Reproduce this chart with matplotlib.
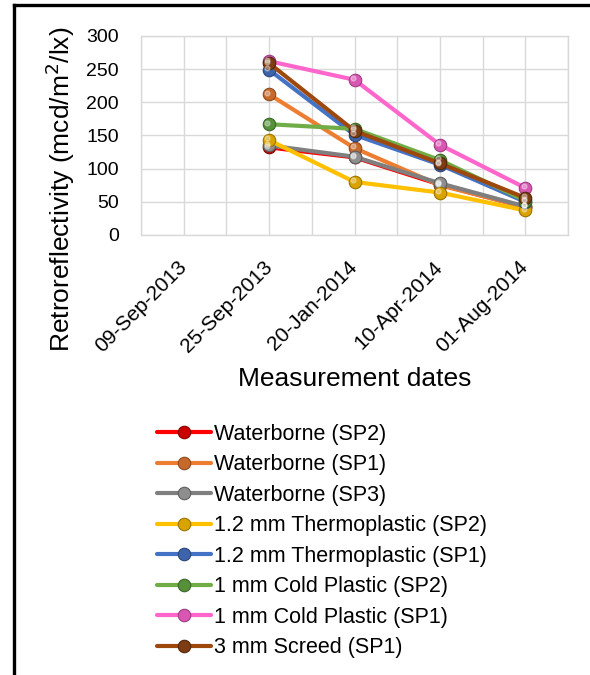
import numpy as np
import matplotlib
matplotlib.use("Agg")
import matplotlib.pyplot as plt
from matplotlib.lines import Line2D

plt.rcParams['font.family'] = ['Liberation Sans', 'DejaVu Sans']

# --- data ---
dates = ["09-Sep-2013", "25-Sep-2013", "20-Jan-2014", "10-Apr-2014", "01-Aug-2014"]
nan = np.nan
waterborne_sp2 = [nan, 132, 117, 76, 42]
waterborne_sp1 = [nan, 212, 131, 75, 42]
waterborne_sp3 = [nan, 135, 118, 78, 43]
thermo12_sp2 = [nan, 143, 80, 64, 37]
thermo12_sp1 = [nan, 249, 151, 106, 50]
cold1_sp2 = [nan, 167, 160, 113, 52]
cold1_sp1 = [nan, 262, 234, 136, 71]
screed3_sp1 = [nan, 259, 157, 108, 56]

series = [
    ("Waterborne (SP2)", waterborne_sp2),
    ("Waterborne (SP1)", waterborne_sp1),
    ("Waterborne (SP3)", waterborne_sp3),
    ("1.2 mm Thermoplastic (SP2)", thermo12_sp2),
    ("1.2 mm Thermoplastic (SP1)", thermo12_sp1),
    ("1 mm Cold Plastic (SP2)", cold1_sp2),
    ("1 mm Cold Plastic (SP1)", cold1_sp1),
    ("3 mm Screed (SP1)", screed3_sp1),
]
# (line colour, marker face, marker edge)
styles = [
    ("#FF0000", "#C80000", "#8A0000"),
    ("#ED7D31", "#C8692C", "#8E4A1E"),
    ("#7F7F7F", "#8E8E8E", "#5E5E5E"),
    ("#FFC000", "#D9A300", "#9A7400"),
    ("#4472C4", "#3D64AA", "#2A4478"),
    ("#70AD47", "#56913A", "#3B6628"),
    ("#FF66CC", "#D957B3", "#9E3D82"),
    ("#9E480E", "#7E3C12", "#52260A"),
]

fig = plt.figure(figsize=(5.9, 6.75), dpi=100)
ax = fig.add_axes([141 / 590, 1 - 235 / 675, (568 - 141) / 590, (235 - 36) / 675])

x = np.arange(len(dates))
handles = []
for (label, vals), (lc, mf, me) in zip(series, styles):
    h, = ax.plot(x, vals, color=lc, lw=3.0, marker='o', markersize=9,
                 markerfacecolor=mf, markeredgecolor=me, markeredgewidth=0.8,
                 label=label, solid_capstyle='round', zorder=3)
    # small highlight for a shaded sphere look
    ax.plot(x - 0.02, np.array(vals) + 2.5, linestyle='none', marker='o',
            markersize=3.5, color='white', alpha=0.35, zorder=4)
    handles.append(h)

ax.set_xlim(-0.5, len(dates) - 0.5)
ax.set_ylim(0, 300)
ax.set_yticks(np.arange(0, 301, 50))
ax.set_xticks(x)
ax.set_xticks(np.arange(-0.5, len(dates), 1.0), minor=True)
ax.set_xticklabels(dates, rotation=45, ha='right', va='center',
                   rotation_mode='anchor', fontsize=15)
ax.tick_params(axis='x', which='both', length=0, pad=21)
ax.tick_params(axis='y', length=0, pad=16, labelsize=14)
ax.grid(True, which='both', color='#D9D9D9', lw=1.0, zorder=0)
for s in ax.spines.values():
    s.set_color('#D9D9D9')
    s.set_linewidth(1.0)

# y title sits lower than the plot centre, as in the original
fig.text(60 / 590, 1 - 189 / 675, "Retroreflectivity (mcd/m$^2$/lx)",
         rotation=90, ha='center', va='center', fontsize=19)
ax.set_xlabel("Measurement dates", fontsize=19, labelpad=8)

fig.legend(handles=handles, loc='upper left',
           bbox_to_anchor=(157 / 590, 1 - 424 / 675),
           frameon=False, fontsize=15.5, handlelength=2.5,
           handletextpad=0.15, labelspacing=0.44, borderaxespad=0,
           borderpad=0)

# partial black frame (left and top edges)
fig.add_artist(Line2D([14 / 590, 14 / 590], [0, 1 - 5 / 675], color='black',
                      lw=2.4, transform=fig.transFigure))
fig.add_artist(Line2D([14 / 590, 1], [1 - 5 / 675, 1 - 5 / 675], color='black',
                      lw=2.4, transform=fig.transFigure))

fig.savefig("out.png", dpi=100)
